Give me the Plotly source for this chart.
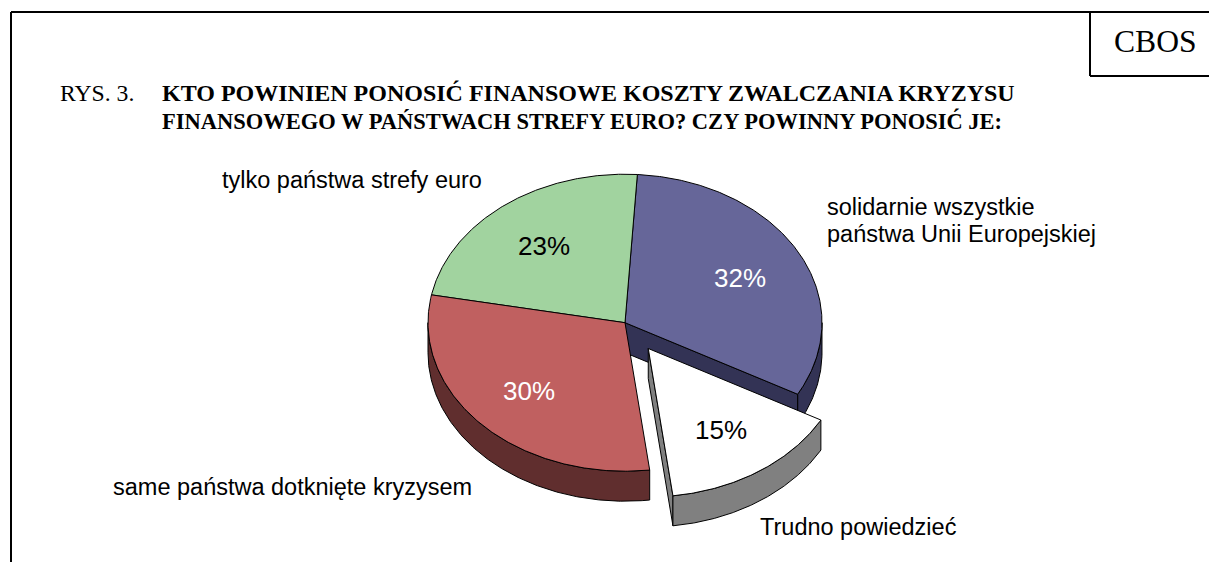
import numpy as np
import plotly.graph_objects as go

categories = ["solidarnie wszystkie<br>państwa Unii Europejskiej", "Trudno powiedzieć",
              "same państwa dotknięte kryzysem", "tylko państwa strefy euro"]
values = [32, 15, 30, 23]
explode = [0, 0.21, 0, 0]
top_colors = ["#666699", "#FFFFFF", "#C06060", "#A1D39F"]
side_colors = ["#333355", "#808080", "#602E2E", "#50694F"]
pct_colors = ["white", "black", "white", "black"]

CX, CY, RX, RY, DEPTH = 625, 322.7, 197, 148.5, 30
START = 3.6
BW = 1.0


def pt(ang, ox=0, oy=0, r=1.0):
    a = np.radians(ang)
    return ox + CX + r * RX * np.sin(a), oy + CY - r * RY * np.cos(a)


def arc(a0, a1, ox=0, oy=0):
    t = np.linspace(a0, a1, max(2, int(abs(a1 - a0) * 2) + 1))
    return pt(t, ox, oy)


def poly(fig, xs, ys, fill):
    fig.add_trace(go.Scatter(x=list(xs), y=list(ys), mode="lines", fill="toself", fillcolor=fill,
                             line=dict(color="black", width=BW), hoverinfo="skip", showlegend=False))


fig = go.Figure()
edges = START + np.concatenate([[0], np.cumsum(values)]) * 3.6
geo = []
for i in range(len(values)):
    a0, a1 = edges[i], edges[i + 1]
    mid = np.radians((a0 + a1) / 2)
    geo.append((a0, a1, explode[i] * RX * np.sin(mid), -explode[i] * RY * np.cos(mid)))


def top(i):
    a0, a1, ox, oy = geo[i]
    x, y = arc(a0, a1, ox, oy)
    poly(fig, [CX + ox, *x, CX + ox], [CY + oy, *y, CY + oy], top_colors[i])


def wall(i, a0, a1):
    _, _, ox, oy = geo[i]
    x, y = arc(a0, a1, ox, oy)
    poly(fig, [*x, *x[::-1], x[0]], [*y, *(y[::-1] + DEPTH), y[0]], side_colors[i])


def cut(i, ang):
    _, _, ox, oy = geo[i]
    x, y = pt(ang, ox, oy)
    px, py = CX + ox, CY + oy
    poly(fig, [px, x, x, px, px], [py, y, y + DEPTH, py + DEPTH, py], side_colors[i])


# back to front: blue, green, red, exploded white
wall(0, 90, geo[0][1])
cut(0, geo[0][1])
top(0)
top(3)
wall(2, geo[2][0], 270)
top(2)
cut(1, geo[1][1])
wall(1, geo[1][0], geo[1][1])
top(1)

PAD = 2  # annotations sit 2px inside their anchor
LINE_GAP = 27
pct_pos = [(740, 278), (721, 430), (529, 391), (544, 246)]
cat_pos = [(827, 207), (760, 527), (113, 487), (222, 180)]
ann = []
for i, v in enumerate(values):
    ann.append(dict(x=pct_pos[i][0], y=pct_pos[i][1], text=f"{v}%", showarrow=False, xanchor="center",
                    yanchor="middle", font=dict(family="Liberation Sans", size=26, color=pct_colors[i])))
    for k, part in enumerate(categories[i].split("<br>")):
        ann.append(dict(x=cat_pos[i][0] - PAD, y=cat_pos[i][1] + k * LINE_GAP, text=part, showarrow=False,
                        xanchor="left", yanchor="middle",
                        font=dict(family="Liberation Sans", size=23.5, color="black")))

serif = "Liberation Serif"
for x, y, t, s in [
    (60, 93, "RYS. 3.", 23.7),
    (162, 93, "<b>KTO POWINIEN PONOSIĆ FINANSOWE KOSZTY ZWALCZANIA KRYZYSU</b>", 24),
    (162, 121, "<b>FINANSOWEGO W PAŃSTWACH STREFY EURO? CZY POWINNY PONOSIĆ JE:</b>", 22.5),
    (1114, 41, "CBOS", 31.6),
]:
    ann.append(dict(x=x - PAD, y=y, text=t, showarrow=False, xanchor="left", yanchor="middle",
                    font=dict(family=serif, size=s, color="black")))

frame = [
    dict(x0=11, y0=12, x1=1209, y1=12),
    dict(x0=11, y0=12, x1=11, y1=562),
    dict(x0=1090, y0=12, x1=1090, y1=76),
    dict(x0=1090, y0=76, x1=1209, y1=76),
]
shapes = [dict(type="line", line=dict(color="black", width=2), **s) for s in frame]

fig.update_layout(
    width=1209, height=562, margin=dict(l=0, r=0, t=0, b=0), paper_bgcolor="white", plot_bgcolor="white",
    xaxis=dict(range=[0, 1209], visible=False), yaxis=dict(range=[562, 0], visible=False),
    annotations=ann, shapes=shapes, showlegend=False,
)
fig.write_html("out.html", config=dict(displayModeBar=False),
               post_script="document.body.style.margin='0';document.body.style.overflow='hidden';")
